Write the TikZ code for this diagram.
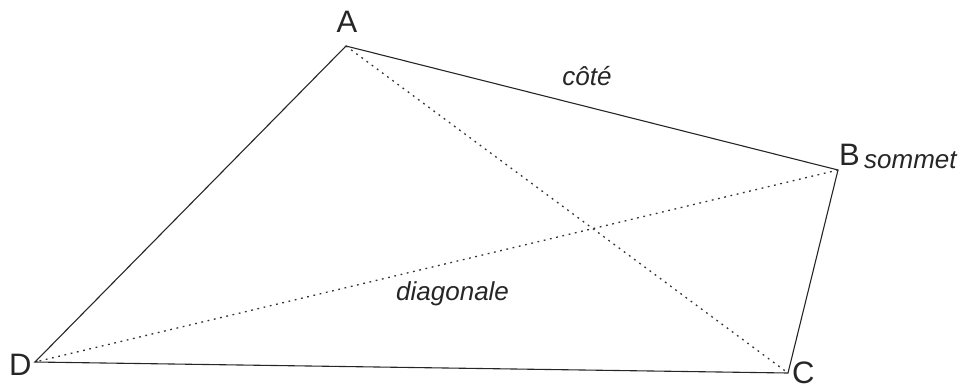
\documentclass[tikz,border=0pt]{standalone}
\usepackage{fontspec}
\setmainfont{Liberation Sans}
\usepackage{tikz}
\usetikzlibrary{positioning,calc}

\begin{document}
\begin{tikzpicture}[x=1pt,y=-1pt,
    cote/.style={line width=1.1pt,draw=black!85},
    diag/.style={line width=1.3pt,draw=black!80,dash pattern=on 1.8pt off 4.6pt},
    sommetlbl/.style={font=\fontsize{31}{31}\selectfont,inner sep=0pt,text=black!85},
    motlbl/.style={font=\fontsize{26}{26}\selectfont\itshape,inner sep=0pt,text=black!85}]
  \useasboundingbox (0,0) rectangle (964,389); % cadre de la figure
  \coordinate (A) at (346,46);  % sommet A
  \coordinate (B) at (838,170); % sommet B
  \coordinate (C) at (788,373); % sommet C
  \coordinate (D) at (35,362);  % sommet D
  \draw[cote] (A) -- (B) -- (C) -- (D) -- cycle; % les quatre côtés
  \draw[diag] (A) -- (C); % diagonale AC en pointillés
  \draw[diag] (B) -- (D); % diagonale BD en pointillés
  \node[sommetlbl,anchor=base] (lA) at (347,32) {A};
  \node[sommetlbl,anchor=base west] (lB) at (839,165) {B};
  \node[motlbl,anchor=base west] (lsommet) at (864,168) {sommet};
  \node[sommetlbl,anchor=base west] (lC) at (792,383) {C};
  \node[sommetlbl,anchor=base west] (lD) at (9,375) {D};
  \node[motlbl,anchor=base] (lcote) at (587,85) {côté}; % nom d'un côté
  \node[motlbl,anchor=base west] (ldiag) at (396,300) {diagonale}; % nom d'une diagonale
\end{tikzpicture}
\end{document}
